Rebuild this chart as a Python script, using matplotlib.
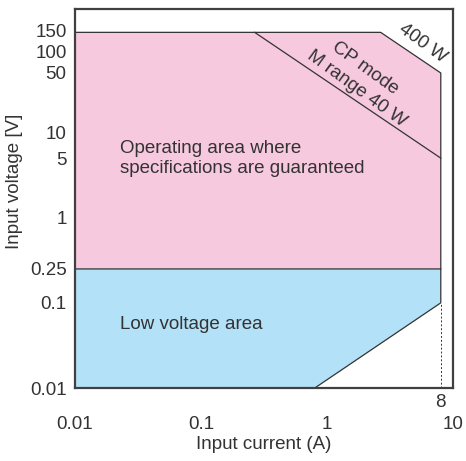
import numpy as np
import matplotlib.pyplot as plt
import matplotlib.transforms as mtransforms

plt.rcParams['font.family'] = ['Liberation Sans', 'DejaVu Sans']

# axis ticks
x_ticks = [0.01, 0.1, 1, 10]
x_labels = ["0.01", "0.1", "1", "10"]
y_ticks = [0.01, 0.1, 0.25, 1, 5, 10, 50, 100, 150]
y_labels = ["0.01", "0.1", "0.25", "1", "5", "10", "50", "100", "150"]

# operating limits
i_min = 0.01
i_max = 8
v_min = 0.01
v_low = 0.25
v_max = 150
p_max = 400      # W
p_cp_m = 40      # W, CP mode M range
r_min = 0.0125   # V/A, low voltage limit line

dark = "#333333"
pink = "#f7c9de"
blue = "#b3e1f7"
fs = 13.5

fig = plt.figure(figsize=(4.66, 4.61), dpi=100)
ax = fig.add_axes([75 / 466, 73 / 461, 378 / 466, 379 / 461])
ax.set_xscale("log")
ax.set_yscale("log")
ax.set_xlim(0.01, 10)
ax.set_ylim(0.01, 282)

# pink: operating area
i_corner = p_max / v_max
pink_x = [i_min, i_corner, i_max, i_max, i_min]
pink_y = [v_max, v_max, p_max / i_max, v_low, v_low]
ax.fill(pink_x, pink_y, color=pink, lw=0)
ax.plot([i_min, i_corner, i_max, i_max], [v_max, v_max, p_max / i_max, v_low], color=dark, lw=0.9)

# blue: low voltage area
i_knee = v_min / r_min
blue_x = [i_min, i_max, i_max, i_knee, i_min]
blue_y = [v_low, v_low, r_min * i_max, v_min, v_min]
ax.fill(blue_x, blue_y, color=blue, lw=0)
ax.plot([i_min, i_max, i_max, i_knee], [v_low, v_low, r_min * i_max, v_min], color=dark, lw=0.9)

# CP mode M range line
ax.plot([p_cp_m / v_max, i_max], [v_max, p_cp_m / i_max], color=dark, lw=0.9)

# dashed marker at 8 A
ax.plot([i_max, i_max], [v_min, r_min * i_max], color=dark, lw=0.7, ls=(0, (2, 2)))
ax.text(i_max, 0.0086, "8", ha="center", va="top", fontsize=fs, color=dark)

ax.set_xticks(x_ticks)
ax.set_xticklabels(x_labels)
ax.set_yticks(y_ticks)
ax.set_yticklabels(y_labels)
ax.minorticks_off()
ax.tick_params(axis="both", length=0, labelsize=fs, colors=dark)
ax.tick_params(axis="x", pad=20)
ax.tick_params(axis="y", pad=6)
for s in ax.spines.values():
    s.set_color("#404040")
    s.set_linewidth(1.6)

# keep 150 and 100 labels apart
for lab in ax.get_yticklabels():
    if lab.get_text() == "100":
        lab.set_transform(lab.get_transform() + mtransforms.ScaledTranslation(0, -3 / 72, fig.dpi_scale_trans))
    if lab.get_text() == "150":
        lab.set_transform(lab.get_transform() + mtransforms.ScaledTranslation(0, 1 / 72, fig.dpi_scale_trans))

ax.set_xlabel("Input current (A)", fontsize=fs, color=dark, labelpad=2)
ax.set_ylabel("Input voltage [V]", fontsize=fs, color=dark)
ax.yaxis.set_label_coords(-0.137, 0.546)

ax.text(0.0228, 5.0, "Operating area where\nspecifications are guaranteed",
        fontsize=fs, color=dark, va="center", ha="left", linespacing=1.25)
ax.text(0.0228, 0.056, "Low voltage area", fontsize=fs, color=dark, va="center", ha="left")

ax.text(2.0, 57, "CP mode", fontsize=fs, color=dark, rotation=-36, ha="center", va="center")
ax.text(1.73, 33, "M range 40 W", fontsize=fs, color=dark, rotation=-36, ha="center", va="center")
ax.text(5.7, 112, "400 W", fontsize=fs, color=dark, rotation=-36, ha="center", va="center")

fig.savefig("out.png", dpi=100)
